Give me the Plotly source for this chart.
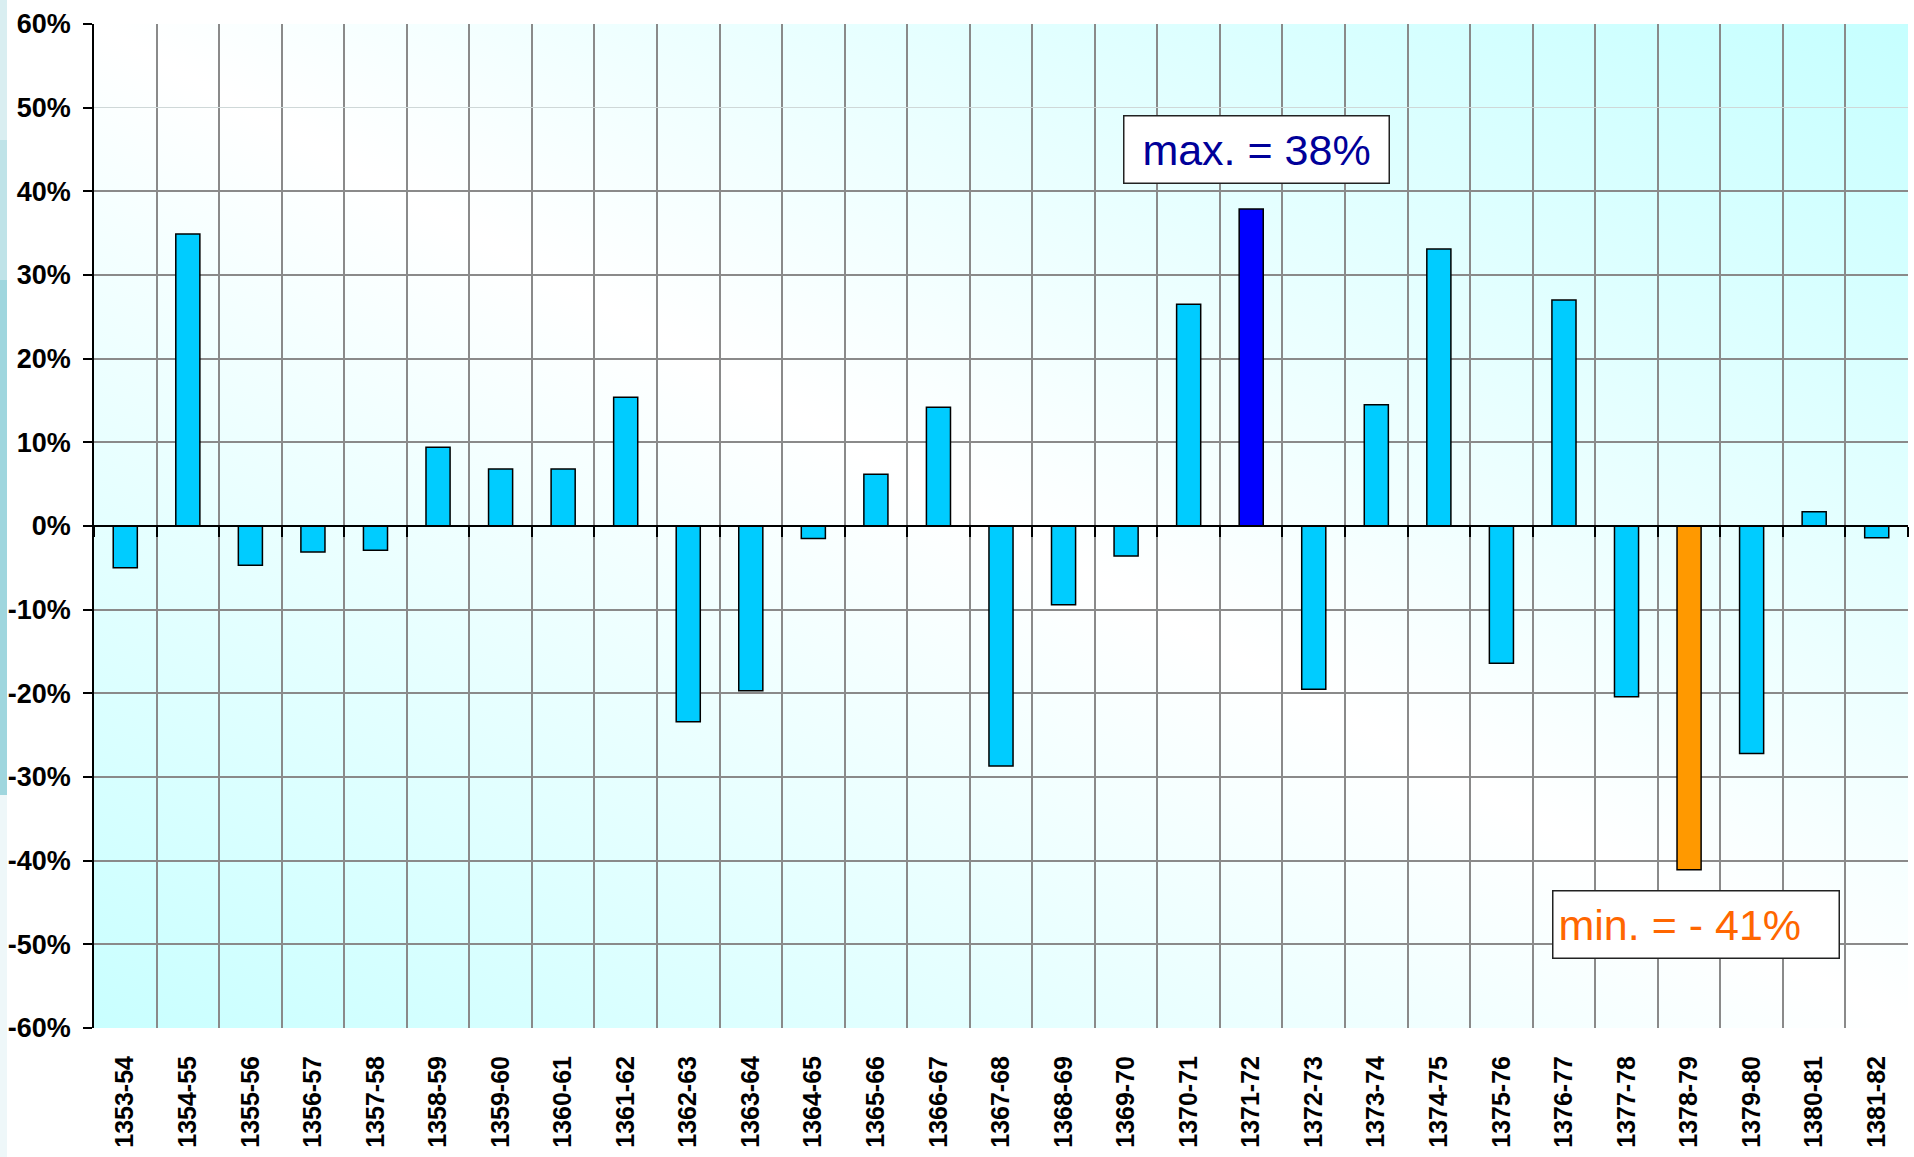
import base64
import plotly.graph_objects as go

# ---------------- data ----------------
categories = ["1353-54", "1354-55", "1355-56", "1356-57", "1357-58", "1358-59",
              "1359-60", "1360-61", "1361-62", "1362-63", "1363-64", "1364-65",
              "1365-66", "1366-67", "1367-68", "1368-69", "1369-70", "1370-71",
              "1371-72", "1372-73", "1373-74", "1374-75", "1375-76", "1376-77",
              "1377-78", "1378-79", "1379-80", "1380-81", "1381-82"]
growth_pct = [-5.0, 34.9, -4.7, -3.1, -2.9, 9.4, 6.8, 6.8, 15.4, -23.4, -19.7, -1.5,
              6.2, 14.2, -28.7, -9.4, -3.6, 26.5, 37.9, -19.5, 14.5, 33.1, -16.4,
              27.0, -20.4, -41.1, -27.2, 1.7, -1.4]
y_tickvals = [60, 50, 40, 30, 20, 10, 0, -10, -20, -30, -40, -50, -60]
y_ticktext = ["60%", "50%", "40%", "30%", "20%", "10%", "0%",
              "-10%", "-20%", "-30%", "-40%", "-50%", "-60%"]

# ---------------- styling ----------------
BAR = "#00ccff"
MAX_C = "#0000ff"
MIN_C = "#ff9900"
GRID = "#8a8a8a"
FONT = "Arial, Liberation Sans, sans-serif"

vmax = max(growth_pct)
vmin = min(growth_pct)
colors = [MAX_C if v == vmax else MIN_C if v == vmin else BAR for v in growth_pct]

fig = go.Figure()
fig.add_trace(go.Bar(
    x=categories, y=growth_pct, xaxis="x2", yaxis="y",
    marker=dict(color=colors, line=dict(color="black", width=1.5)),
    width=0.385, showlegend=False, hoverinfo="x+y",
))
# invisible helper so the bottom label axis knows the categories
fig.add_trace(go.Scatter(
    x=categories, y=growth_pct, xaxis="x", yaxis="y", mode="markers",
    marker=dict(opacity=0), showlegend=False, hoverinfo="skip",
))
# invisible helper to activate the light 50% grid line axis
fig.add_trace(go.Scatter(
    x=categories, y=growth_pct, xaxis="x", yaxis="y2", mode="markers",
    marker=dict(opacity=0), showlegend=False, hoverinfo="skip",
))

# diagonal reflected gradient for plot area
svg = ('<svg xmlns="http://www.w3.org/2000/svg" width="100" height="100" '
       'viewBox="0 0 100 100" preserveAspectRatio="none"><defs>'
       '<linearGradient id="g" x1="0" y1="1" x2="1" y2="0">'
       '<stop offset="0" stop-color="#c9ffff"/>'
       '<stop offset="0.5" stop-color="#ffffff"/>'
       '<stop offset="1" stop-color="#c6ffff"/>'
       '</linearGradient></defs>'
       '<rect width="100" height="100" fill="url(#g)"/></svg>')
src = "data:image/svg+xml;base64," + base64.b64encode(svg.encode()).decode()

W, H = 1914, 1157
ML, MR, MT, MB = 94, 6, 24, 129
PW, PH = W - ML - MR, H - MT - MB


def px_x(p):
    return (p - ML) / PW


def px_y(p):
    return (H - MB - p) / PH


shapes = []
# slide-edge strip on the far left
for y0, y1, c in [(0, 140, "#d9eef1"), (140, 280, "#bfe3e8"),
                  (280, 795, "#9fd6de"), (795, 1157, "#eef7f9")]:
    shapes.append(dict(type="rect", xref="paper", yref="paper",
                       x0=px_x(0), x1=px_x(7), y0=px_y(y1), y1=px_y(y0),
                       fillcolor=c, line=dict(width=0), layer="below"))

annotations = [
    dict(text=f"max. = {round(vmax)}%", xref="paper", yref="paper",
         x=px_x(1256), y=px_y(149.5), xanchor="center", yanchor="middle",
         showarrow=False,
         font=dict(family=FONT, size=43, color="#000099"),
         bgcolor="white", bordercolor="#222222", borderwidth=1.5,
         borderpad=3, width=258, height=60, align="center"),
    dict(text=f"min. = - {abs(round(vmin))}%", xref="paper", yref="paper",
         x=px_x(1695.5), y=px_y(924.5), xanchor="center", yanchor="middle",
         showarrow=False,
         font=dict(family=FONT, size=43, color="#ff6600"),
         bgcolor="white", bordercolor="#222222", borderwidth=1.5,
         borderpad=5, width=275, height=56, align="left"),
]

fig.update_layout(
    width=W, height=H,
    margin=dict(l=ML, r=MR, t=MT, b=MB, pad=0, autoexpand=False),
    paper_bgcolor="white", plot_bgcolor="rgba(0,0,0,0)",
    font=dict(family=FONT, color="black"),
    images=[dict(source=src, xref="paper", yref="paper", x=0, y=1,
                 sizex=1, sizey=1, sizing="stretch", layer="below",
                 xanchor="left", yanchor="top")],
    shapes=shapes,
    annotations=annotations,
    xaxis=dict(
        type="category", categoryorder="array", categoryarray=categories,
        range=[-0.5, len(categories) - 0.5], automargin=False,
        tickson="boundaries", showgrid=True, gridcolor=GRID, gridwidth=1.5,
        ticks="", showline=False, zeroline=False,
        tickangle=-90, tickfont=dict(family=FONT, size=25, color="black",
                                     weight="bold"),
        ticklabelstandoff=22,
    ),
    xaxis2=dict(
        type="category", categoryorder="array", categoryarray=categories,
        range=[-0.5, len(categories) - 0.5], automargin=False,
        overlaying="x", anchor="free", position=0.5, side="bottom",
        tickson="boundaries", ticks="outside", ticklen=10, tickwidth=1.5,
        tickcolor="black", showticklabels=False, showgrid=False,
        showline=True, linecolor="black", linewidth=2, zeroline=False,
    ),
    yaxis=dict(
        range=[-60, 60], tickvals=y_tickvals, ticktext=y_ticktext,
        showgrid=False, zeroline=False, automargin=False,
        minor=dict(tickmode="array",
                   tickvals=[v for v in y_tickvals if v != 50],
                   showgrid=True, gridcolor=GRID, gridwidth=1.5, ticks=""),
        ticks="outside", ticklen=9, tickwidth=1.5, tickcolor="black",
        showline=True, linecolor="black", linewidth=1.5,
        tickfont=dict(family=FONT, size=27, color="black", weight="bold"),
        ticklabelstandoff=7,
    ),
    yaxis2=dict(
        range=[-60, 60], overlaying="y", anchor="x", side="left",
        tickvals=[50], showticklabels=False, showgrid=True, automargin=False,
        gridcolor="#cfd8d8", gridwidth=1, ticks="", zeroline=False,
        showline=False,
    ),
    bargap=0.6,
)

fig.write_html("out.html",
               config={"displayModeBar": False},
               post_script="document.body.style.margin='0px';"
                           "document.body.style.overflow='hidden';")
